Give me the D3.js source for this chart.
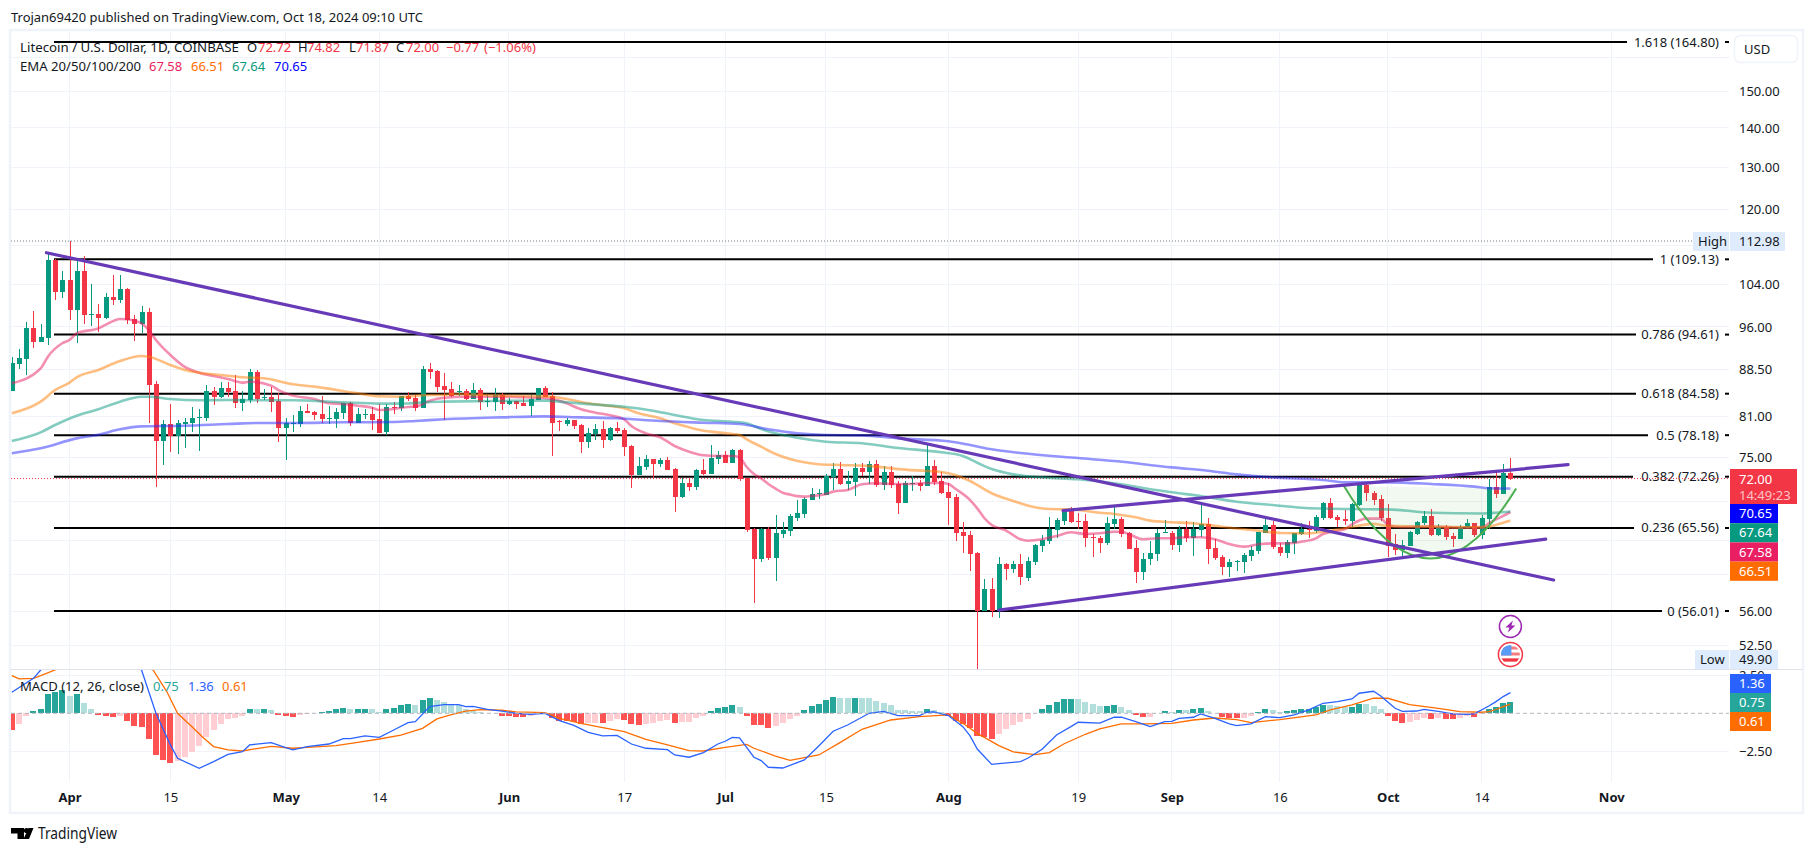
<!DOCTYPE html>
<html><head><meta charset="utf-8">
<script src="https://cdnjs.cloudflare.com/ajax/libs/d3/7.8.5/d3.min.js"></script>
<style>
html,body{margin:0;padding:0;background:#fff;overflow:hidden}
svg{display:block}
text{font-family:"Noto Sans",sans-serif;font-size:13px;fill:#131722}
</style></head><body>
<svg id="c" width="1814" height="853"></svg>
<script>
// ---- data: daily candles from 24 Mar 2024 ----
const firstDay = Date.UTC(2024, 2, 24);
const opens = [85.06,89.54,90.38,95.80,93.35,94.05,109.00,102.63,104.94,99.18,106.68,98.20,98.38,97.70,101.60,101.09,103.16,97.45,96.60,98.76,86.15,77.36,79.86,78.10,79.86,80.01,80.76,80.76,85.01,84.05,85.49,85.01,83.11,83.58,88.13,83.89,84.05,83.42,79.25,79.90,79.86,81.85,81.70,81.39,80.61,80.61,81.54,83.11,80.01,81.23,81.39,80.61,78.65,82.48,82.31,84.21,83.89,82.31,88.63,88.30,85.82,85.33,84.80,85.01,83.73,85.17,83.31,83.26,84.37,82.95,83.42,83.11,82.63,83.58,85.49,84.21,80.31,79.86,80.46,79.70,77.18,78.35,79.10,77.47,79.25,78.95,76.59,72.49,73.59,74.72,74.02,74.58,73.31,69.52,71.40,70.86,73.18,72.63,74.72,75.30,74.16,76.02,72.08,65.43,61.81,65.43,61.93,64.82,65.19,66.82,67.33,69.13,69.89,69.80,72.22,73.31,71.27,71.53,73.45,72.90,74.02,71.13,72.90,71.27,68.74,71.27,71.36,71.00,73.74,71.67,70.20,69.52,65.07,64.70,62.52,56.01,58.40,56.01,61.24,60.66,61.24,59.62,61.46,63.36,63.96,65.31,66.44,67.71,66.40,66.44,64.45,64.33,63.72,66.07,66.69,64.94,63.12,60.32,61.81,62.41,64.94,64.94,63.48,65.43,64.33,65.31,66.07,63.12,62.04,60.89,61.46,61.46,62.16,62.76,64.94,65.94,63.24,62.52,63.72,64.82,65.47,65.19,66.82,68.74,66.94,66.69,66.44,68.48,71.13,70.06,69.26,66.82,63.60,62.88,63.36,64.82,66.19,67.08,64.70,65.69,64.57,64.20,65.56,66.19,64.70,66.69,70.86,69.93,72.72];
const highs = [90.73,92.07,96.91,98.94,96.54,110.52,109.14,106.68,112.98,109.34,109.83,104.15,100.27,102.33,105.94,105.94,103.30,98.20,99.89,99.44,86.64,80.46,82.95,80.46,80.76,82.48,82.16,85.99,85.65,86.48,86.48,87.63,85.01,88.63,88.47,85.33,85.65,84.69,80.76,81.23,82.63,82.95,81.85,84.21,82.63,82.31,83.11,83.26,82.31,82.16,82.48,82.95,82.95,83.26,84.21,84.80,84.37,89.14,89.65,88.47,87.97,86.43,85.99,85.28,86.31,85.49,84.37,85.49,84.69,83.89,83.42,84.21,84.37,85.49,85.82,84.85,80.46,80.76,80.46,79.86,79.25,79.86,80.31,79.40,80.16,79.25,76.73,75.00,75.30,74.72,74.86,75.00,73.45,72.08,72.08,73.31,74.72,76.73,75.87,75.87,76.16,76.16,72.08,65.56,65.56,65.69,67.20,66.32,67.33,69.13,69.52,70.73,70.60,72.63,74.16,74.30,73.04,74.16,74.16,74.44,74.58,73.74,73.74,71.67,71.67,72.35,71.80,76.73,74.58,72.90,71.36,69.93,66.32,65.19,62.64,59.51,59.62,62.04,61.35,61.58,62.41,62.04,63.60,64.70,66.94,66.82,67.96,68.22,67.45,67.33,64.82,64.57,66.94,68.22,66.94,65.07,64.08,62.52,63.96,65.43,66.57,65.19,65.81,66.44,66.32,68.61,66.82,64.20,62.29,61.81,61.70,62.52,63.36,65.07,66.69,66.44,63.72,64.08,64.94,66.19,66.44,67.20,68.87,69.39,67.20,67.84,68.74,71.36,71.50,70.33,69.80,68.61,64.82,64.08,65.19,66.44,67.71,67.96,66.07,65.94,64.94,65.94,66.69,66.19,67.20,71.94,73.04,74.02,74.82];
const lows = [85.06,88.68,87.59,92.30,93.35,92.77,101.03,101.47,97.33,93.17,96.60,96.18,95.13,97.40,100.08,100.50,96.60,93.52,94.95,80.01,70.91,73.88,75.73,75.48,76.31,78.65,75.87,80.31,82.79,83.89,84.05,82.31,81.85,83.11,83.11,83.53,81.70,77.18,74.58,78.65,79.40,81.54,80.46,80.01,79.86,79.25,80.61,79.55,80.01,80.61,78.95,78.50,78.20,81.39,81.85,83.42,81.85,82.31,86.97,84.85,80.46,84.10,84.21,83.58,83.73,82.00,82.48,81.85,82.00,82.79,82.16,82.63,81.08,83.58,84.05,75.15,78.80,79.55,79.10,75.58,76.31,77.47,76.31,77.32,78.50,75.15,70.73,72.49,73.18,71.94,73.59,73.18,67.58,69.39,70.33,70.46,72.49,72.63,74.02,74.16,74.16,71.67,65.07,56.87,61.46,61.70,59.29,64.33,64.57,66.44,66.82,69.13,69.26,69.80,70.46,71.13,70.46,69.66,72.35,71.27,70.86,70.46,70.73,67.33,68.74,70.33,70.33,71.00,71.13,69.93,65.94,63.96,62.52,60.43,49.90,56.01,55.38,55.28,59.40,60.20,58.84,59.29,61.12,62.64,63.60,64.33,65.94,66.19,65.43,63.24,62.04,62.52,63.48,65.43,64.45,63.00,59.07,59.40,61.12,61.58,64.94,62.88,62.64,63.84,62.16,64.45,61.24,61.70,59.97,59.73,60.43,60.20,61.58,62.41,64.94,63.00,62.16,61.93,62.41,64.70,64.33,64.94,66.57,66.69,65.69,65.94,65.73,68.35,69.00,68.48,66.44,62.04,62.29,62.04,63.36,64.70,65.94,64.57,64.57,64.08,63.24,64.20,65.43,64.45,64.20,65.43,69.39,69.93,71.87];
const closes = [89.60,90.51,95.80,93.35,94.12,109.00,102.63,104.94,99.18,106.68,98.26,98.38,97.70,101.60,101.09,103.16,97.33,96.60,98.76,85.99,77.36,79.86,78.10,80.01,80.16,80.76,80.92,85.01,84.05,85.49,84.85,83.11,83.73,88.13,83.73,84.05,83.26,79.25,80.01,80.05,81.85,81.54,81.23,80.61,80.76,81.70,83.11,80.01,81.39,81.39,80.46,78.50,82.48,82.31,84.21,83.73,82.31,88.63,88.13,85.65,85.17,84.21,85.01,83.69,85.17,83.26,83.42,84.37,82.95,83.42,82.95,82.63,83.73,85.49,84.05,80.01,80.16,80.46,79.55,77.18,78.50,79.10,77.47,79.25,78.80,76.45,72.49,73.74,74.72,74.02,74.58,73.18,69.52,71.40,70.86,73.18,72.63,74.86,75.30,74.16,76.02,71.94,65.31,61.81,65.43,61.93,64.94,65.31,67.08,67.45,69.26,69.93,70.02,72.35,73.31,71.27,71.67,73.45,72.90,74.02,71.13,72.90,71.13,68.74,71.36,71.40,71.00,73.74,71.53,70.06,69.39,64.94,64.57,62.41,56.01,58.40,56.01,61.24,60.66,61.24,59.73,61.58,63.48,64.08,65.43,66.57,67.71,66.32,66.28,64.33,64.33,63.72,66.19,66.69,64.82,63.00,60.32,61.81,62.52,64.94,65.07,63.48,65.43,64.33,65.43,66.07,63.00,61.93,60.89,61.46,61.58,62.29,62.88,65.07,65.94,63.24,62.52,63.84,64.94,65.43,65.35,66.94,68.74,66.82,66.57,66.44,68.61,71.13,70.02,69.13,66.82,63.36,62.88,63.48,65.07,66.32,67.08,64.70,65.69,64.45,64.20,65.69,66.19,64.70,66.82,70.86,69.93,72.77,72.00];
const macdHist = [-1.10,-0.70,-0.18,0.15,0.29,1.27,1.40,1.54,1.14,1.27,0.68,0.29,-0.11,-0.18,-0.24,-0.18,-0.50,-0.83,-0.90,-1.69,-2.74,-3.07,-3.27,-3.14,-2.87,-2.54,-2.15,-1.56,-1.10,-0.70,-0.39,-0.31,-0.18,0.29,0.28,0.29,0.22,-0.11,-0.18,-0.24,-0.11,-0.02,0.04,0.09,0.15,0.29,0.35,0.29,0.30,0.31,0.29,0.09,0.29,0.35,0.55,0.61,0.55,0.88,1.01,0.88,0.75,0.61,0.55,0.29,0.22,0.09,0.04,0.02,-0.18,-0.19,-0.24,-0.25,-0.18,-0.04,-0.01,-0.31,-0.50,-0.51,-0.57,-0.70,-0.64,-0.63,-0.64,-0.50,-0.37,-0.44,-0.70,-0.77,-0.70,-0.64,-0.50,-0.44,-0.64,-0.57,-0.56,-0.31,-0.18,0.15,0.35,0.42,0.55,0.42,-0.18,-0.77,-0.78,-0.96,-0.83,-0.64,-0.37,-0.18,0.22,0.48,0.61,0.88,1.07,1.01,1.00,1.01,1.00,0.99,0.81,0.68,0.55,0.22,0.21,0.15,0.14,0.29,0.22,0.09,-0.18,-0.50,-0.70,-0.96,-1.49,-1.56,-1.69,-1.36,-1.03,-0.77,-0.57,-0.37,0.02,0.29,0.55,0.75,0.94,0.95,0.94,0.75,0.61,0.48,0.49,0.55,0.42,0.22,-0.11,-0.24,-0.23,0.02,0.15,0.09,0.22,0.21,0.29,0.35,0.15,0.04,-0.24,-0.31,-0.32,-0.31,-0.18,0.09,0.29,0.22,0.09,0.15,0.22,0.29,0.30,0.42,0.55,0.54,0.48,0.42,0.43,0.61,0.60,0.48,0.29,-0.18,-0.50,-0.64,-0.57,-0.44,-0.31,-0.37,-0.31,-0.37,-0.38,-0.31,-0.18,-0.24,-0.02,0.26,0.42,0.66,0.75];

// sampled indicator readings: [candle index, value]
const ema20 = [[0,86.26],[4,88.74],[5,90.73],[7,93.07],[8,93.65],[9,94.85],[12,95.74],[13,96.36],[15,97.45],[16,97.40],[17,97.15],[18,96.66],[19,95.44],[20,93.65],[22,91.03],[24,89.00],[26,88.02],[28,87.47],[30,86.97],[32,86.37],[33,86.53],[36,85.88],[37,85.17],[39,84.27],[42,83.73],[44,83.06],[46,82.95],[48,82.68],[50,82.37],[51,82.00],[53,82.16],[55,82.48],[56,82.52],[58,83.47],[60,83.94],[63,84.10],[65,84.10],[68,84.10],[71,84.00],[74,83.84],[76,83.47],[77,83.06],[79,82.11],[81,81.59],[83,81.18],[85,80.57],[86,79.55],[88,78.45],[90,77.86],[92,76.59],[94,75.77],[96,75.25],[98,75.15],[100,75.15],[101,74.96],[102,73.60],[103,72.63],[104,72.03],[105,71.27],[106,70.64],[107,70.10],[108,69.85],[109,69.64],[110,69.58],[111,69.66],[113,69.93],[114,70.24],[116,70.46],[118,71.22],[120,71.36],[122,71.27],[125,71.27],[127,71.40],[129,71.40],[130,71.27],[131,70.60],[133,69.13],[134,68.05],[135,66.78],[136,65.94],[138,65.23],[140,64.17],[141,64.00],[143,64.17],[145,64.57],[147,65.03],[149,64.82],[151,64.90],[153,65.10],[154,65.10],[155,64.82],[157,64.17],[159,64.29],[161,64.29],[163,64.41],[165,64.41],[167,64.17],[169,63.60],[171,63.28],[173,63.56],[175,63.68],[177,63.68],[179,63.88],[181,64.29],[182,64.82],[184,65.23],[185,65.40],[186,66.01],[188,66.74],[190,66.74],[191,65.94],[193,65.66],[197,65.73],[201,65.60],[204,65.60],[205,66.13],[206,66.64],[207,67.08],[208,67.58]];
const ema50 = [[0,81.49],[4,83.31],[6,85.17],[8,86.37],[9,87.25],[12,88.47],[15,89.99],[18,90.85],[19,90.73],[22,89.31],[24,88.47],[26,88.02],[29,87.63],[32,87.25],[35,87.08],[39,86.10],[42,85.72],[48,84.64],[51,84.16],[54,84.10],[58,84.37],[60,84.37],[61,84.53],[68,84.27],[72,84.21],[75,84.10],[77,83.73],[80,83.06],[83,82.63],[85,82.27],[87,81.49],[90,80.73],[92,79.96],[94,79.36],[96,78.85],[98,78.60],[100,78.35],[101,78.20],[102,77.57],[104,76.49],[106,75.44],[108,74.72],[110,74.26],[112,73.98],[115,73.88],[120,73.65],[123,73.31],[127,73.04],[129,72.90],[131,72.45],[133,71.67],[136,70.02],[139,69.00],[142,68.18],[144,67.96],[147,67.92],[151,67.48],[153,67.33],[156,66.90],[158,66.48],[161,66.28],[164,66.16],[167,65.82],[170,65.49],[173,65.23],[176,64.94],[180,64.90],[182,65.10],[185,65.52],[189,66.07],[191,65.82],[197,65.73],[203,65.66],[205,65.73],[207,66.23],[208,66.51]];
const ema100 = [[0,77.32],[4,78.60],[6,79.70],[9,81.12],[12,82.11],[15,83.31],[18,84.10],[19,84.10],[22,83.73],[26,83.53],[30,83.58],[34,83.53],[39,83.53],[46,83.21],[51,83.00],[54,83.00],[58,83.26],[60,83.31],[68,83.42],[74,83.47],[77,83.21],[81,82.84],[85,82.52],[89,81.90],[92,81.23],[96,80.46],[100,80.20],[102,79.96],[104,79.10],[106,78.45],[109,77.80],[113,77.22],[118,76.98],[123,76.31],[129,75.68],[132,75.15],[134,74.20],[136,73.31],[139,72.58],[143,72.16],[148,71.90],[153,71.36],[157,70.73],[161,70.15],[165,69.66],[170,68.91],[175,68.48],[179,68.13],[185,67.96],[191,67.92],[197,67.48],[204,67.39],[206,67.48],[208,67.64]];
const ema200 = [[0,75.54],[4,76.26],[9,77.71],[12,78.25],[15,79.05],[18,79.50],[24,79.60],[30,79.86],[34,80.01],[39,80.01],[46,80.11],[53,80.16],[56,80.31],[60,80.57],[68,80.87],[74,81.02],[79,80.87],[84,80.73],[90,80.31],[96,80.05],[101,79.86],[105,79.05],[109,78.45],[113,78.20],[118,78.15],[123,77.71],[130,77.28],[133,76.73],[136,76.11],[140,75.58],[148,74.86],[153,74.44],[161,73.55],[166,73.08],[170,72.58],[175,72.16],[182,71.80],[185,71.49],[191,71.49],[197,71.27],[203,70.91],[205,70.69],[208,70.65]];
const macdLine = [[0,1.38],[3,2.30],[4,2.85],[6,3.60],[9,4.30],[14,3.80],[18,2.85],[20,0.00],[22,-2.08],[23,-2.96],[26,-3.62],[28,-3.18],[30,-2.70],[32,-2.52],[33,-2.08],[36,-1.93],[38,-2.26],[39,-2.41],[41,-2.19],[44,-2.02],[46,-1.67],[47,-1.67],[49,-1.49],[51,-1.58],[53,-1.10],[55,-0.61],[56,-0.55],[58,0.44],[60,0.57],[62,0.57],[63,0.44],[64,0.46],[66,0.26],[68,0.15],[70,0.00],[72,-0.07],[74,0.00],[76,-0.48],[78,-0.79],[80,-1.25],[82,-1.49],[84,-1.45],[86,-2.02],[88,-2.30],[91,-2.39],[92,-2.74],[94,-2.89],[96,-2.59],[98,-2.02],[99,-1.84],[100,-1.58],[101,-1.62],[103,-2.89],[104,-3.11],[105,-3.55],[107,-3.60],[110,-3.07],[112,-2.15],[114,-1.18],[116,-0.77],[119,0.00],[121,0.13],[123,-0.15],[126,-0.15],[127,0.07],[128,0.09],[130,-0.15],[132,-0.88],[133,-1.49],[134,-2.35],[136,-3.36],[137,-3.31],[140,-3.18],[141,-2.96],[143,-2.37],[145,-1.43],[147,-0.88],[148,-0.59],[151,-0.64],[153,-0.26],[154,-0.26],[156,-0.55],[158,-0.88],[160,-0.55],[161,-0.53],[162,-0.33],[164,-0.26],[165,-0.04],[167,-0.33],[169,-0.70],[170,-0.81],[172,-0.70],[174,-0.22],[176,-0.29],[178,-0.11],[180,0.22],[182,0.66],[184,0.77],[186,0.94],[187,1.32],[189,1.45],[190,1.14],[192,0.33],[193,0.13],[195,0.15],[196,0.26],[198,0.13],[200,-0.04],[202,-0.07],[203,-0.04],[205,0.48],[206,0.77],[207,1.10],[208,1.36]];
const macdSignal = [[0,2.48],[1,2.26],[3,2.30],[4,2.48],[6,2.85],[10,3.90],[14,3.60],[19.6,2.85],[21.5,1.43],[23,0.00],[25,-0.88],[26.5,-1.58],[28,-2.19],[30,-2.41],[32,-2.48],[34,-2.32],[36,-2.17],[39,-2.30],[41,-2.24],[45,-2.13],[48,-1.91],[51,-1.69],[54,-1.43],[57,-0.99],[59,-0.37],[61,-0.09],[63,0.15],[65,0.24],[68,0.20],[70,0.09],[74,0.04],[76,-0.33],[79,-0.66],[82,-0.94],[85,-1.21],[88,-1.71],[91,-2.08],[94,-2.46],[96,-2.48],[99,-2.24],[102,-2.04],[103,-2.30],[106,-2.81],[108,-3.09],[112,-2.74],[115,-1.91],[118,-1.05],[122,-0.44],[126,-0.22],[130,-0.11],[132,-0.66],[134,-1.32],[137,-2.13],[139,-2.54],[142,-2.72],[144,-2.59],[146,-2.02],[149,-1.38],[151,-1.03],[154,-0.70],[157,-0.70],[161,-0.66],[164,-0.44],[167,-0.31],[170,-0.42],[172,-0.61],[176,-0.42],[181,-0.11],[183,0.22],[186,0.55],[189,0.99],[191,0.99],[194,0.57],[198,0.33],[201,0.11],[204,0.07],[205,0.11],[206,0.25],[207,0.44],[208,0.61]];

// drawings
const fibLevels = [1.618,1,0.786,0.618,0.5,0.382,0.236,0];
const fibPrices = [164.80,109.13,94.61,84.58,78.18,72.26,65.56,56.01];
const trendLines = [[[4.8,110.5],[214,59.4]],[[137,56.1],[212.9,64.2]],[[145.9,67.75],[216,73.92]]];
const cupCurve = [[184.9,71.0],[196.8,54.07],[208.8,70.65]];

// axis labels
const priceTicksLabelled = [150,140,130,120,104,96,88.5,81,75,56,52.5];
const priceGrid = [160,150,140,130,120,112,104,96,88.5,81,75,69,64,60,56,52.5];
const macdTicks = [2.5,-2.5];
const timeTicks = [[3,1,"Apr",1],[3,15,"15",0],[4,1,"May",1],[4,14,"14",0],[5,1,"Jun",1],[5,17,"17",0],[6,1,"Jul",1],[6,15,"15",0],[7,1,"Aug",1],[7,19,"19",0],[8,1,"Sep",1],[8,16,"16",0],[9,1,"Oct",1],[9,14,"14",0],[10,1,"Nov",1]];
const priceTags = [["70.65","#0000ff"],["67.64","#089981"],["67.58","#e91e63"],["66.51","#ff6d00"]];
const macdTags = [["1.36","#2962ff"],["0.75","#26a69a"],["0.61","#ff6d00"]];

// ---- layout ----
const L = 11, R = 1729, PT = 31, PB = 669, MT = 670, MB = 782;
const day = 86400000;
const x = d3.scaleUtc().domain([Date.UTC(2024,3,1), Date.UTC(2024,9,18)]).range([69.5,1510.4]);
const xi = i => x(firstDay + i*day);
const y = d3.scaleLog().domain([56.01,164.80]).range([611,42]);
const ym = d3.scaleLinear().domain([0,-2.5]).range([713.3,751.3]);
const RED="#f23645", GREEN="#089981", GRID="#f0f3fa";

const svg = d3.select("#c");
const defs = svg.append("defs");
defs.append("clipPath").attr("id","pc").append("rect").attr("x",L).attr("y",PT).attr("width",R-L).attr("height",PB-PT);
defs.append("clipPath").attr("id","mc").append("rect").attr("x",L).attr("y",MT).attr("width",R-L).attr("height",MB-MT);

// frame
svg.append("rect").attr("x",10).attr("y",30).attr("width",1793).attr("height",783).attr("fill","#fff").attr("stroke",GRID).attr("stroke-width",2.5);

// grid
const grid = svg.append("g").attr("shape-rendering","crispEdges").attr("stroke",GRID);
grid.selectAll(".v").data(timeTicks).join("line").attr("x1",d=>x(Date.UTC(2024,d[0],d[1]))).attr("x2",d=>x(Date.UTC(2024,d[0],d[1]))).attr("y1",PT).attr("y2",MB);
grid.selectAll(".h").data(priceGrid).join("line").attr("x1",L).attr("x2",R).attr("y1",d=>y(d)).attr("y2",d=>y(d));
grid.selectAll(".m").data(macdTicks).join("line").attr("x1",L).attr("x2",R).attr("y1",d=>ym(d)).attr("y2",d=>ym(d));
svg.append("line").attr("x1",L).attr("x2",1803).attr("y1",669.5).attr("y2",669.5).attr("stroke","#e0e3eb").attr("stroke-width",1);

// fib lines, ended just before each label
const fibEnd = [1627,1653,1636,1636,1648,1633,1634,1662];
const fibG = svg.append("g").attr("stroke","#000").attr("stroke-width",2);
fibPrices.forEach((p,k)=>{
  fibG.append("line").attr("x1",54).attr("x2",fibEnd[k]).attr("y1",y(p)).attr("y2",y(p));
  fibG.append("line").attr("x1",1725).attr("x2",1729).attr("y1",y(p)).attr("y2",y(p));
  svg.append("text").attr("x",1719).attr("y",y(p)+4.5).attr("text-anchor","end").text(`${fibLevels[k]} (${p.toFixed(2)})`);
});

// high + last price dotted lines
svg.append("line").attr("x1",L).attr("x2",1693).attr("y1",y(112.98)).attr("y2",y(112.98)).attr("stroke","#787b86").attr("stroke-dasharray","1 2");
svg.append("line").attr("x1",L).attr("x2",R).attr("y1",y(72)).attr("y2",y(72)).attr("stroke",RED).attr("stroke-dasharray","1 2");

// candles
const idx = d3.range(opens.length);
const pane = svg.append("g").attr("clip-path","url(#pc)");
const cg = pane.append("g").attr("shape-rendering","crispEdges");
cg.selectAll(".w").data(idx).join("rect").attr("x",i=>Math.round(xi(i))-0.5).attr("width",1)
  .attr("y",i=>y(highs[i])).attr("height",i=>y(lows[i])-y(highs[i]))
  .attr("fill",i=>closes[i]>=opens[i]?GREEN:RED);
cg.selectAll(".b").data(idx).join("rect").attr("x",i=>Math.round(xi(i))-2.5).attr("width",5)
  .attr("y",i=>y(Math.max(opens[i],closes[i]))).attr("height",i=>Math.max(1,Math.abs(y(opens[i])-y(closes[i]))))
  .attr("fill",i=>closes[i]>=opens[i]?GREEN:RED);

// EMAs
const line = d3.line().x(d=>xi(d[0])).y(d=>y(d[1])).curve(d3.curveMonotoneX);
[[ema20,"#e91e63"],[ema50,"#ff7d00"],[ema100,"#089981"],[ema200,"#2a2aff"]].forEach(([s,c])=>{
  pane.append("path").attr("d",line(s)).attr("fill","none").attr("stroke",c).attr("stroke-width",2.6).attr("stroke-opacity",0.5);
});

// cup arc
const cup = d3.path();
cup.moveTo(xi(cupCurve[0][0]),y(cupCurve[0][1]));
cup.quadraticCurveTo(xi(cupCurve[1][0]),y(cupCurve[1][1]),xi(cupCurve[2][0]),y(cupCurve[2][1]));
pane.append("path").attr("d",cup.toString()+"Z").attr("fill","#4caf50").attr("fill-opacity",0.08);
pane.append("path").attr("d",cup.toString()).attr("fill","none").attr("stroke","#4caf50").attr("stroke-width",2);

// trend lines
pane.selectAll(".t").data(trendLines).join("line")
  .attr("x1",d=>xi(d[0][0])).attr("y1",d=>y(d[0][1])).attr("x2",d=>xi(d[1][0])).attr("y2",d=>y(d[1][1]))
  .attr("stroke","#673ab7").attr("stroke-width",3.2).attr("stroke-linecap","round");

// event icons under the last candle
const ix = xi(208);
const bolt = svg.append("g").attr("transform",`translate(${ix},626.5)`);
bolt.append("circle").attr("r",11).attr("fill","#fff").attr("stroke","#9c27b0").attr("stroke-width",1.5);
bolt.append("path").attr("d","M2.5,-6 L-5,1 L-1,1 L-2.5,6 L5,-1 L1,-1 Z").attr("fill","#9c27b0");
const flag = svg.append("g").attr("transform",`translate(${ix},654.5)`);
defs.append("clipPath").attr("id","fc").append("circle").attr("r",9.5);
flag.append("circle").attr("r",12).attr("fill","#fff").attr("stroke",RED).attr("stroke-width",1.5);
const fl = flag.append("g").attr("clip-path","url(#fc)");
fl.append("rect").attr("x",-10).attr("y",-10).attr("width",20).attr("height",20).attr("fill","#fff");
[-8,-2,4].forEach(v=>fl.append("rect").attr("x",-10).attr("y",v).attr("width",20).attr("height",3).attr("fill","#f77c80"));
fl.append("rect").attr("x",-10).attr("y",-10).attr("width",11).attr("height",11).attr("fill","#5b9cf6");
fl.append("rect").attr("x",-10).attr("y",4).attr("width",20).attr("height",3).attr("fill",RED);

// price axis (labels only)
const axisY = svg.append("g").attr("transform",`translate(${R},0)`)
  .call(d3.axisRight(y).tickValues(priceTicksLabelled).tickFormat(d3.format(".2f")).tickSize(0).tickPadding(10));
axisY.select(".domain").remove();
axisY.selectAll("text").attr("font-size",13).attr("font-family",'"Noto Sans",sans-serif').attr("fill","#131722");

// high / low tags
function tag(px,py,w,h,bg,txt,col,tx){
  svg.append("rect").attr("x",px).attr("y",py).attr("width",w).attr("height",h).attr("fill",bg);
  svg.append("text").attr("x",tx).attr("y",py+h/2+4.5).text(txt).style("fill",col);
}
tag(1693,232,36,19,"#dfecfd","High","#131722",1698);
tag(1730,232,55,19,"#dfecfd","112.98","#131722",1739);
tag(1695,650,34,19,"#dfecfd","Low","#131722",1700);
tag(1730,650,48,19,"#dfecfd","49.90","#131722",1739);

// price tags
svg.append("rect").attr("x",1730).attr("y",469).attr("width",67).attr("height",35).attr("fill",RED);
svg.append("text").attr("x",1739).attr("y",484).text("72.00").style("fill","#fff");
svg.append("text").attr("x",1739).attr("y",500).text("14:49:23").style("fill","#fbc4c9");
priceTags.forEach((t,k)=>tag(1730,504+k*19.2,48,19.2,t[1],t[0],"#fff",1739));

// USD button
svg.append("rect").attr("x",1734.5).attr("y",35.5).attr("width",63).attr("height",27).attr("rx",6).attr("fill","#fff").attr("stroke",GRID).attr("stroke-width",1.5);
svg.append("text").attr("x",1744).attr("y",54).text("USD");

// macd pane
const mp = svg.append("g").attr("clip-path","url(#mc)");
svg.append("line").attr("x1",L).attr("x2",R).attr("y1",ym(0)).attr("y2",ym(0)).attr("stroke","#b2b5be").attr("stroke-dasharray","4 3");
const histColor = i => {
  const v = macdHist[i], p = i ? macdHist[i-1] : v+0.1;
  return v>=0 ? (v>=p ? "#26a69a" : "#b2dfdb") : (v<p ? "#ff5252" : "#ffcdd2");
};
mp.append("g").attr("shape-rendering","crispEdges").selectAll("rect").data(idx).join("rect")
  .attr("x",i=>Math.round(xi(i))-3).attr("width",6)
  .attr("y",i=>Math.min(ym(macdHist[i]),ym(0))).attr("height",i=>Math.abs(ym(macdHist[i])-ym(0)))
  .attr("fill",histColor);
const mline = d3.line().x(d=>xi(d[0])).y(d=>ym(d[1])).curve(d3.curveLinear);
mp.append("path").attr("d",mline(macdSignal)).attr("fill","none").attr("stroke","#ff6d00").attr("stroke-width",1.3);
mp.append("path").attr("d",mline(macdLine)).attr("fill","none").attr("stroke","#2962ff").attr("stroke-width",1.3);

const axisM = svg.append("g").attr("transform",`translate(${R},0)`)
  .call(d3.axisRight(ym).tickValues(macdTicks).tickFormat(d=>d3.format(".2f")(d).replace("-","\u2212")).tickSize(0).tickPadding(10));
axisM.select(".domain").remove();
axisM.selectAll("text").attr("font-size",13).attr("font-family",'"Noto Sans",sans-serif').attr("fill","#131722");
macdTags.forEach((t,k)=>tag(1730,674+k*19,41,19,t[1],t[0],"#fff",1739));

// time axis
const axisX = svg.append("g").attr("transform","translate(0,785)")
  .call(d3.axisBottom(x).tickValues(timeTicks.map(d=>new Date(Date.UTC(2024,d[0],d[1])))).tickSize(0).tickPadding(8)
    .tickFormat((d,k)=>timeTicks[k][2]));
axisX.select(".domain").remove();
axisX.selectAll("text").attr("font-size",13).attr("font-family",'"Noto Sans",sans-serif').attr("fill","#131722")
  .attr("font-weight",(d,k)=>timeTicks[k][3]?700:400);

// texts
function t(px,py,s,c,extra){
  const e = svg.append("text").attr("x",px).attr("y",py).text(s);
  if(c) e.style("fill",c);
  if(extra) e.attr("textLength",extra).attr("lengthAdjust","spacingAndGlyphs");
  return e;
}
t(11,22,"Trojan69420 published on TradingView.com, Oct 18, 2024 09:10 UTC",null,412);
t(20,52,"Litecoin / U.S. Dollar, 1D, COINBASE",null,219);
t(247,52,"O"); t(258,52,"72.72",RED);
t(298,52,"H"); t(307,52,"74.82",RED);
t(349,52,"L"); t(356,52,"71.87",RED);
t(396,52,"C"); t(406,52,"72.00",RED);
t(446,52,"\u22120.77",RED); t(484,52,"(\u22121.06%)",RED);
t(20,71,"EMA 20/50/100/200",null,121);
t(149,71,"67.58","#e91e63"); t(191,71,"66.51","#ff6d00"); t(232,71,"67.64","#089981"); t(274,71,"70.65","#0000ff");
t(20,691,"MACD (12, 26, close)",null,124);
t(153,691,"0.75","#26a69a"); t(188,691,"1.36","#2962ff"); t(222,691,"0.61","#ff6d00");

// logo
svg.append("path").attr("d","M11 828H24V839H17.5V833.5H11Z M28.5 828H33.5L29 839H23.5Z").attr("fill","#000");
svg.append("circle").attr("cx",26.5).attr("cy",830.5).attr("r",2.6).attr("fill","#000");
const lg = t(38,839,"TradingView",null,79); lg.attr("font-size",16).style("font-size","16px");
</script>
</body></html>
